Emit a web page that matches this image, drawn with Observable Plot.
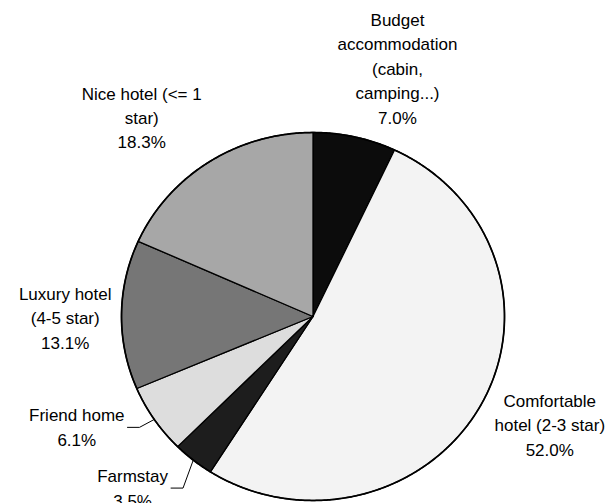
<!DOCTYPE html>
<html><head><meta charset="utf-8">
<script src="https://cdn.jsdelivr.net/npm/d3@7"></script>
<script src="https://cdn.jsdelivr.net/npm/@observablehq/plot@0.6"></script>
<style>body{margin:0;background:#fff} #chart{width:615px;height:503px}</style>
</head><body><div id="chart"></div>
<script>
// ---- data ----
const categories = ["Budget accommodation (cabin, camping...)", "Comfortable hotel (2-3 star)", "Farmstay", "Friend home", "Luxury hotel (4-5 star)", "Nice hotel (<= 1 star)"];
const labelLines = [["Budget", "accommodation", "(cabin,", "camping...)"], ["Comfortable", "hotel (2-3 star)"], ["Farmstay"], ["Friend home"], ["Luxury hotel", "(4-5 star)"], ["Nice hotel (<= 1", "star)"]];
const shares = [7.0, 52.0, 3.5, 6.1, 13.1, 18.3];

// ---- style / layout ----
const sliceFills = ["#0c0c0c", "#f3f3f3", "#1d1d1d", "#dddddd", "#767676", "#a7a7a7"];
const leaderFor = ["Farmstay", "Friend home"];
const labelNudge = [[27, 1.5], [10, -5], [-31, -2], [-28, -14], [2, 2], [-28, -5]];
const W = 615, H = 503, cx = 312.5, cy = 316, rx = 191.5, ry = 184;
const fontSize = 17, lineH = 24.5, pad = 12;
const font = "'Liberation Sans', Arial, sans-serif";

const toX = px => (px - cx) / rx;
const toY = py => (cy - py) / ry;

const arcs = d3.pie().sort(null).value(d => d)(shares);

// slice outlines
const slicePts = [];
arcs.forEach((a, i) => {
  const cat = categories[i];
  slicePts.push({cat, x: 0, y: 0, fill: sliceFills[i]});
  const n = Math.max(2, Math.ceil((a.endAngle - a.startAngle) / (Math.PI / 360)));
  for (let k = 0; k <= n; k++) {
    const t = a.startAngle + (a.endAngle - a.startAngle) * k / n;
    slicePts.push({cat, x: Math.sin(t), y: Math.cos(t), fill: sliceFills[i]});
  }
  slicePts.push({cat, x: 0, y: 0, fill: sliceFills[i]});
});
const rim = d3.range(0, 721).map(k => {
  const t = 2 * Math.PI * k / 720;
  return {x: Math.sin(t), y: Math.cos(t)};
});

// labels
const ctx = document.createElement("canvas").getContext("2d");
ctx.font = `${fontSize}px ${font}`;
const labels = [];
const leaders = [];
arcs.forEach((a, i) => {
  const lines = [...labelLines[i], shares[i].toFixed(1) + "%"];
  const m = (a.startAngle + a.endAngle) / 2;
  const s = Math.sin(m), c = Math.cos(m);
  const hw = d3.max(lines, l => ctx.measureText(l).width) / 2;
  const hh = lines.length * lineH / 2;
  const ax = cx + (rx + pad) * s, ay = cy - (ry + pad) * c;
  const px = ax + hw * s + labelNudge[i][0];
  const py = ay - hh * c + labelNudge[i][1];
  labels.push({x: toX(px), y: toY(py), text: lines.join("\n")});
  if (leaderFor.includes(categories[i])) {
    const x0 = px + hw + 3, y0 = py + 1.5;
    leaders.push({id: i, x: toX(x0), y: toY(y0)});
    leaders.push({id: i, x: toX(x0 + 12), y: toY(y0)});
    leaders.push({id: i, x: s, y: c});
  }
});

const chart = Plot.plot({
  width: W, height: H,
  marginTop: 0, marginRight: 0, marginBottom: 0, marginLeft: 0,
  x: {domain: [toX(0), toX(W)], axis: null},
  y: {domain: [toY(H), toY(0)], axis: null},
  color: {type: "identity"},
  style: {fontFamily: font, background: "#fff"},
  marks: [
    Plot.line(slicePts, {x: "x", y: "y", z: "cat", fill: "fill", stroke: "#000", strokeWidth: 1.3, strokeLinejoin: "round", curve: "linear"}),
    Plot.line(rim, {x: "x", y: "y", stroke: "#000", strokeWidth: 1.7, curve: "linear"}),
    Plot.line(leaders, {x: "x", y: "y", z: "id", stroke: "#000", strokeWidth: 1, curve: "linear"}),
    Plot.text(labels, {x: "x", y: "y", text: "text", fontSize, lineHeight: lineH / fontSize, lineAnchor: "middle", textAnchor: "middle", fill: "#000"})
  ]
});
document.getElementById("chart").appendChild(chart);
</script>
</body></html>
